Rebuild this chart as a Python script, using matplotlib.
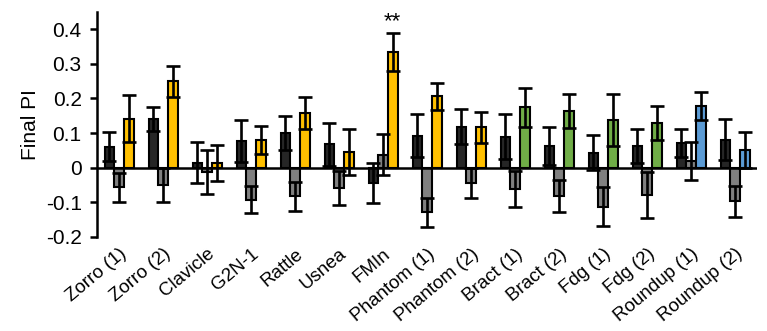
import numpy as np
import matplotlib
matplotlib.use('Agg')
import matplotlib.pyplot as plt

plt.rcParams['font.family'] = ['Liberation Sans', 'DejaVu Sans']

labels = ['Zorro (1)', 'Zorro (2)', 'Clavicle', 'G2N-1', 'Rattle', 'Usnea', 'FMIn',
          'Phantom (1)', 'Phantom (2)', 'Bract (1)', 'Bract (2)', 'Fdg (1)', 'Fdg (2)',
          'Roundup (1)', 'Roundup (2)']

# three bars per line: black, gray, coloured
black_mean = [0.061, 0.140, 0.015, 0.078, 0.101, 0.068, -0.044, 0.092, 0.119, 0.090, 0.064, 0.044, 0.063, 0.071, 0.081]
black_sem = [0.042, 0.034, 0.060, 0.060, 0.049, 0.062, 0.057, 0.062, 0.051, 0.065, 0.055, 0.051, 0.049, 0.041, 0.060]
gray_mean = [-0.057, -0.051, -0.013, -0.092, -0.083, -0.059, 0.038, -0.129, -0.044, -0.061, -0.081, -0.112, -0.078, 0.020, -0.097]
gray_sem = [0.042, 0.049, 0.063, 0.039, 0.042, 0.050, 0.059, 0.042, 0.044, 0.051, 0.047, 0.057, 0.066, 0.055, 0.045]
col_mean = [0.142, 0.250, 0.014, 0.081, 0.158, 0.045, 0.333, 0.206, 0.117, 0.174, 0.165, 0.138, 0.129, 0.179, 0.050]
col_sem = [0.067, 0.045, 0.053, 0.040, 0.047, 0.066, 0.055, 0.040, 0.045, 0.057, 0.049, 0.074, 0.050, 0.040, 0.052]
col_colors = ['#FFC000'] * 9 + ['#70AD47'] * 4 + ['#5B9BD5'] * 2

x = np.arange(len(labels))
w = 0.22

fig = plt.figure(figsize=(7.67, 3.31), dpi=100)
ax = fig.add_axes([0.1265, 0.284, 0.8605, 0.68])

err_kw = dict(ecolor='black', elinewidth=1.9, capsize=4.8, capthick=1.9)
ax.bar(x - w, black_mean, w, yerr=black_sem, color='#262626', edgecolor='black',
       linewidth=1.5, error_kw=err_kw, zorder=2)
ax.bar(x, gray_mean, w, yerr=gray_sem, color='#808080', edgecolor='black',
       linewidth=1.5, error_kw=err_kw, zorder=2)
ax.bar(x + w, col_mean, w, yerr=col_sem, color=col_colors, edgecolor='black',
       linewidth=1.5, error_kw=err_kw, zorder=2)

ax.axhline(0, color='black', linewidth=1.8, zorder=3)
ax.text(6 + w, col_mean[6] + col_sem[6] + 0.004, '**', ha='center', va='bottom', fontsize=16)

ax.set_xlim(-0.5, 14.5)
ax.set_ylim(-0.2, 0.45)
ax.set_yticks([-0.2, -0.1, 0, 0.1, 0.2, 0.3, 0.4])
ax.set_yticklabels(['-0.2', '-0.1', '0', '0.1', '0.2', '0.3', '0.4'], fontsize=15)
ax.set_ylabel('Final PI', fontsize=15, labelpad=4)
ax.set_xticks(x)
ax.set_xticklabels(labels, rotation=40, ha='right', va='top', rotation_mode='anchor', fontsize=13.5)
ax.tick_params(axis='x', length=0, pad=6)
ax.tick_params(axis='y', direction='out', length=5, width=1.8, pad=6)

for s in ['top', 'right', 'bottom']:
    ax.spines[s].set_visible(False)
ax.spines['left'].set_linewidth(1.8)
ax.spines['left'].set_bounds(-0.2, 0.45)

fig.savefig('out.png', dpi=100)
